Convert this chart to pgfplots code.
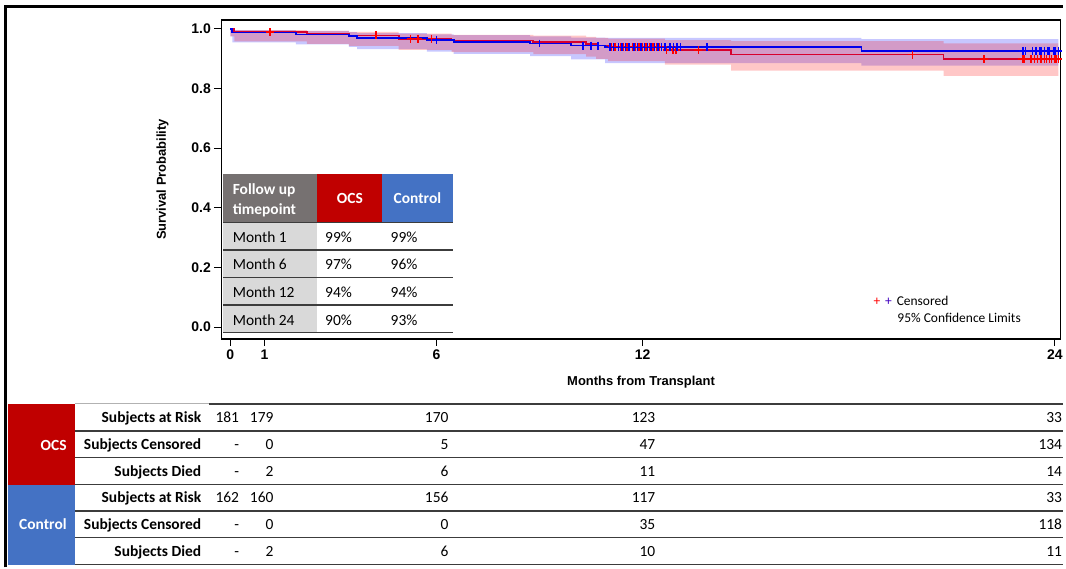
\documentclass[border=0pt]{standalone}
\usepackage{fontspec}
\setmainfont{Carlito}
\newfontfamily\arial{Liberation Sans}
\usepackage{pgfplots}
\pgfplotsset{compat=1.18}

\definecolor{ocsred}{RGB}{192,0,0}
\definecolor{ctlblue}{RGB}{68,114,196}
\definecolor{hdrgray}{RGB}{118,113,113}
\definecolor{cellgray}{RGB}{217,217,217}
\definecolor{rline}{RGB}{215,0,45}
\definecolor{bline}{RGB}{0,0,235}
\definecolor{tline}{RGB}{60,60,60}

\newcommand{\tf}{\fontsize{15.5}{19}\selectfont}

\begin{document}
\begin{tikzpicture}
\begin{axis}[
  scale only axis, width=842pt, height=320pt,
  at={(222pt,-340pt)}, anchor=south west,
  xmin=-0.26, xmax=24.17, ymin=-0.040, ymax=1.030,
  xtick={0,1,6,12,24}, ytick={0,0.2,0.4,0.6,0.8,1.0},
  yticklabel style={/pgf/number format/.cd, fixed, fixed zerofill, precision=1},
  /pgf/number format/assume math mode=true,
  tick align=outside, tick pos=left,
  major tick length=7pt,
  tick style={black, line width=1pt},
  axis line style={black, line width=1.2pt},
  ticklabel style={font=\arial\bfseries\fontsize{14}{16}\selectfont},
  xlabel={Months from Transplant}, ylabel={Survival Probability},
  label style={font=\arial\bfseries\fontsize{13}{15}\selectfont},
  xlabel style={at={(axis description cs:0.5,-0.134)}, anchor=center},
  ylabel style={at={(axis description cs:-0.0701,0.5)}, anchor=center},
]
% Control 95% confidence limits (step band)
\addplot[fill=blue, fill opacity=0.22, draw=none] coordinates {
(0,1.0) (0.06,1.0) (0.06,0.996) (1.91,0.996) (1.91,0.993) (3.45,0.993) (3.45,0.989) (3.69,0.989) (3.69,0.986) (5.72,0.986) (5.72,0.982) (6.50,0.982) (6.50,0.979) (8.73,0.979) (8.73,0.975) (9.92,0.975) (9.92,0.971) (10.91,0.971) (10.91,0.970) (18.37,0.970) (18.37,0.966) (24.1,0.966)
(24.1,0.877) (18.37,0.877) (18.37,0.885) (10.91,0.885) (10.91,0.898) (9.92,0.898) (9.92,0.909) (8.73,0.909) (8.73,0.916) (6.50,0.916) (6.50,0.924) (5.72,0.924) (5.72,0.932) (3.69,0.932) (3.69,0.940) (3.45,0.940) (3.45,0.948) (1.91,0.948) (1.91,0.955) (0.06,0.955) (0.06,0.975) (0,0.975)};
% OCS 95% confidence limits (step band)
\addplot[fill=red, fill opacity=0.22, draw=none] coordinates {
(0,1.0) (0.12,1.0) (0.12,0.996) (2.23,0.996) (2.23,0.993) (3.45,0.993) (3.45,0.990) (4.90,0.990) (4.90,0.984) (6.44,0.984) (6.44,0.980) (8.82,0.980) (8.82,0.977) (10.36,0.977) (10.36,0.973) (10.65,0.973) (10.65,0.970) (11.0,0.970) (11.0,0.967) (12.65,0.967) (12.65,0.962) (14.58,0.962) (14.58,0.959) (20.76,0.959) (20.76,0.951) (24.1,0.951)
(24.1,0.842) (20.76,0.842) (20.76,0.860) (14.58,0.860) (14.58,0.880) (12.65,0.880) (12.65,0.892) (11.0,0.892) (11.0,0.899) (10.65,0.899) (10.65,0.907) (10.36,0.907) (10.36,0.915) (8.82,0.915) (8.82,0.922) (6.44,0.922) (6.44,0.930) (4.90,0.930) (4.90,0.943) (3.45,0.943) (3.45,0.950) (2.23,0.950) (2.23,0.958) (0.12,0.958) (0.12,0.975) (0,0.975)};
% OCS curve
\addplot[const plot, rline, line width=1.8pt] coordinates {
(0,1.0) (0.12,0.989) (2.23,0.983) (3.45,0.978) (4.90,0.967) (6.44,0.961) (8.82,0.956) (10.36,0.950) (10.65,0.944) (11.0,0.939) (12.65,0.929) (14.58,0.914) (20.76,0.899) (24.1,0.899)};
% Control curve
\addplot[const plot, bline, line width=1.8pt] coordinates {
(0,1.0) (0.06,0.988) (1.91,0.981) (3.45,0.975) (3.69,0.969) (5.72,0.963) (6.50,0.957) (8.73,0.951) (9.92,0.944) (10.91,0.938) (18.37,0.926) (24.1,0.926)};
% censored OCS
\addplot[only marks, mark=+, mark size=4pt, red, line width=1.4pt] coordinates {
(1.16,0.989) (4.24,0.978) (5.25,0.967) (5.46,0.967) (5.86,0.967)
(11.1,0.939) (11.2,0.939) (11.35,0.939) (11.45,0.939) (11.55,0.939) (11.7,0.939) (11.8,0.939) (11.9,0.939) (12.0,0.939) (12.1,0.939) (12.2,0.939) (12.3,0.939) (12.4,0.939) (12.5,0.939)
(12.7,0.929) (12.88,0.929) (12.97,0.929) (13.62,0.929) (19.85,0.914) (21.94,0.899)
(23.05,0.899) (23.1,0.899) (23.3,0.899) (23.4,0.899) (23.5,0.899) (23.6,0.899) (23.7,0.899) (23.75,0.899) (23.85,0.899) (23.9,0.899) (24.0,0.899) (24.05,0.899) (24.1,0.899)};
% censored Control
\addplot[only marks, mark=+, mark size=4pt, blue, line width=1.4pt] coordinates {
(6.0,0.963) (9.0,0.951) (10.27,0.944) (10.5,0.944) (10.7,0.944)
(11.05,0.938) (11.15,0.938) (11.3,0.938) (11.4,0.938) (11.5,0.938) (11.6,0.938) (11.75,0.938) (11.85,0.938) (11.95,0.938) (12.05,0.938) (12.15,0.938) (12.25,0.938) (12.35,0.938) (12.45,0.938) (12.55,0.938) (12.65,0.938) (12.8,0.938) (12.9,0.938) (13.0,0.938) (13.1,0.938) (13.87,0.938)
(23.07,0.926) (23.15,0.926) (23.35,0.926) (23.45,0.926) (23.55,0.926) (23.6,0.926) (23.7,0.926) (23.8,0.926) (23.85,0.926) (23.95,0.926) (24.0,0.926) (24.1,0.926)};
\end{axis}

\begin{scope}[x=1pt, y=-1pt]
% outer frame
\draw[line width=2.5pt] (5.5,569) -- (5.5,6.5) -- (1066,6.5);

% inset table
\fill[hdrgray] (224,175) rectangle (317.7,223.3);
\fill[ocsred] (317.7,175) rectangle (383.3,223.3);
\fill[ctlblue] (383.3,175) rectangle (454,223.3);
\fill[cellgray] (223.5,223.3) rectangle (317.7,334);
\fill[white] (317.7,223.3) rectangle (454,334);
\draw[tline, line width=1.2pt] (224,223.3) -- (454,223.3);
\foreach \yy in {250.7,278.3,306,333.3} \draw[tline, line width=1.2pt] (224,\yy) -- (454,\yy);
\node[anchor=base west, inner sep=0, text=white, font=\bfseries\tf] at (233.3,195.5) {Follow up};
\node[anchor=base west, inner sep=0, text=white, font=\bfseries\tf] at (233.3,215.5) {timepoint};
\node[anchor=base, inner sep=0, text=white, font=\bfseries\tf] at (351,204.5) {OCS};
\node[anchor=base, inner sep=0, text=white, font=\bfseries\tf] at (418.7,204.5) {Control};
\foreach \yy/\m/\a/\b in {243.5/1/99/99, 270.5/6/97/96, 298/12/94/94, 326/24/90/93} {
  \node[anchor=base west, inner sep=0, font=\tf] at (233.3,\yy) {Month \m};
  \node[anchor=base west, inner sep=0, font=\tf] at (326,\yy) {\a\%};
  \node[anchor=base west, inner sep=0, font=\tf] at (391.7,\yy) {\b\%};
}

% legend
\node[anchor=base west, inner sep=0, text=red, font=\fontsize{13.5}{16}\selectfont] at (876,306.2) {+};
\node[anchor=base west, inner sep=0, text=blue!75!red, font=\fontsize{13.5}{16}\selectfont] at (887.7,306.2) {+};
\node[anchor=base west, inner sep=0, font=\fontsize{13.5}{16}\selectfont] at (899.3,306.2) {Censored};
\node[anchor=base west, inner sep=0, font=\fontsize{13.5}{16}\selectfont] at (900,323.8) {95\% Confidence Limits};

% risk table
\fill[ocsred] (8,405) rectangle (75,486);
\fill[ctlblue] (8,486) rectangle (75,567);
\node[anchor=base east, inner sep=0, text=white, font=\bfseries\tf] at (67,451.5) {OCS};
\node[anchor=base east, inner sep=0, text=white, font=\bfseries\tf] at (67,531.5) {Control};
\draw[gray!60, line width=1.2pt] (75,405) -- (210,405);
\draw[tline, line width=1.5pt] (210,405) -- (1066,405);
\foreach \yy in {432.3,459,486,512.5,539,566} \draw[tline, line width=1.5pt] (75,\yy) -- (1066,\yy);
\foreach \yy/\lab in {424/Subjects at Risk, 451/Subjects Censored, 477.5/Subjects Died, 504/Subjects at Risk, 531/Subjects Censored, 558/Subjects Died}
  \node[anchor=base east, inner sep=0, font=\bfseries\tf] at (202,\yy) {\lab};
\foreach \yy/\a/\b/\c/\d/\e in {424/181/179/170/123/33, 451/-/0/5/47/134, 477.5/-/2/6/11/14, 504/162/160/156/117/33, 531/-/0/0/35/118, 558/-/2/6/10/11} {
  \node[anchor=base east, inner sep=0, font=\tf] at (240,\yy) {\a};
  \node[anchor=base east, inner sep=0, font=\tf] at (274.5,\yy) {\b};
  \node[anchor=base east, inner sep=0, font=\tf] at (450,\yy) {\c};
  \node[anchor=base east, inner sep=0, font=\tf] at (657.5,\yy) {\d};
  \node[anchor=base east, inner sep=0, font=\tf] at (1065.5,\yy) {\e};
}
% page size
\path[use as bounding box] (0,0) rectangle (1066,569);
\end{scope}
\end{tikzpicture}
\end{document}
